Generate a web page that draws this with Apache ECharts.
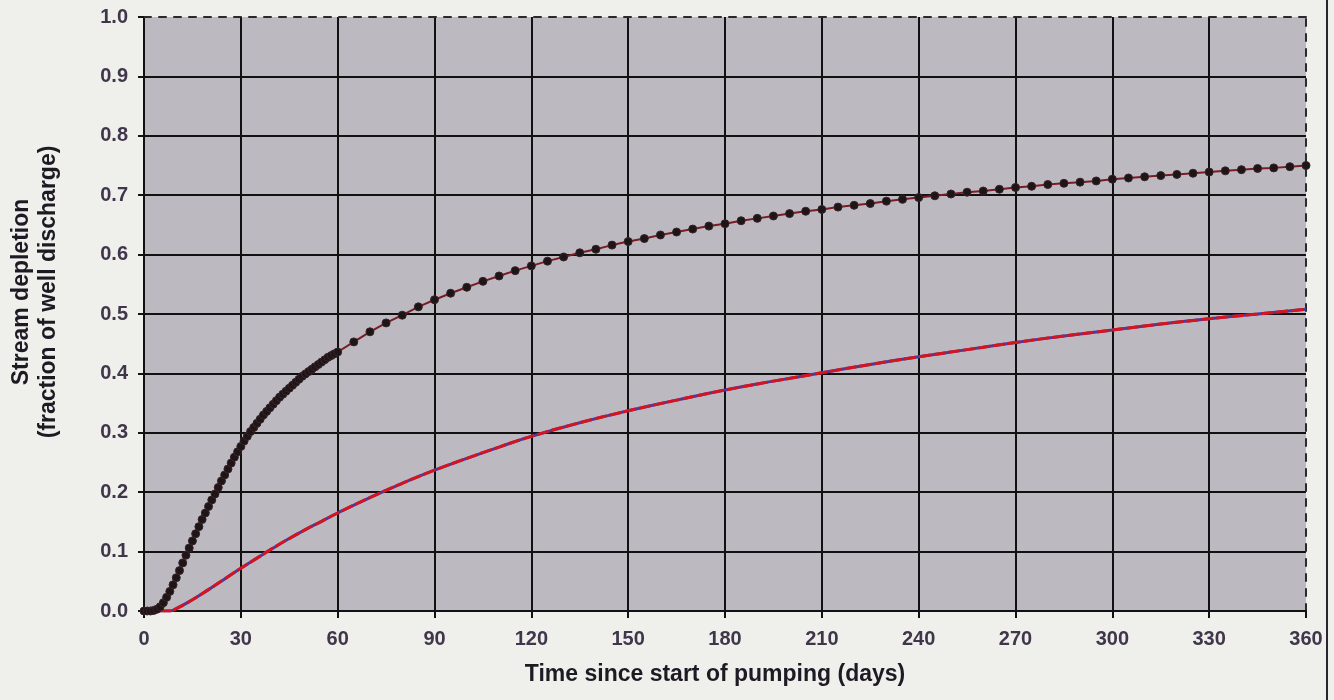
<!DOCTYPE html>
<html>
<head>
<meta charset="utf-8">
<script src="https://cdn.jsdelivr.net/npm/echarts@6/dist/echarts.min.js"></script>
<style>
html,body{margin:0;padding:0;background:#efefeb;}
#chart{width:1334px;height:700px;}
</style>
</head>
<body>
<div id="chart"></div>
<script>
// Tick labels
const xTicks = [0, 30, 60, 90, 120, 150, 180, 210, 240, 270, 300, 330, 360];
const yTicks = [0.0, 0.1, 0.2, 0.3, 0.4, 0.5, 0.6, 0.7, 0.8, 0.9, 1.0];

// Series with dot markers (days, fraction of well discharge)
const dotDays = [
  0,1,2,3,4,5,6,7,8,9,10,11,12,13,14,15,16,17,18,19,20,
  21,22,23,24,25,26,27,28,29,30,31,32,33,34,35,36,37,38,39,40,
  41,42,43,44,45,46,47,48,49,50,51,52,53,54,55,56,57,58,59,60,
  65,70,75,80,85,90,95,100,105,110,115,120,125,130,135,140,145,150,
  155,160,165,170,175,180,185,190,195,200,205,210,215,220,225,230,235,240,
  245,250,255,260,265,270,275,280,285,290,295,300,305,310,315,320,325,330,
  335,340,345,350,355,360
];
const dotValues = [
  0,0,0,0.001,0.003,0.007,0.014,0.023,0.033,0.044,0.056,0.068,0.081,0.094,0.106,0.118,0.130,0.142,0.154,0.165,0.176,
  0.187,0.197,0.208,0.219,0.229,0.239,0.249,0.259,0.268,0.277,0.286,0.294,0.302,0.309,0.316,0.323,0.330,0.336,0.342,0.348,
  0.354,0.360,0.365,0.370,0.375,0.380,0.385,0.390,0.395,0.399,0.403,0.407,0.411,0.415,0.419,0.423,0.427,0.430,0.433,0.436,
  0.453,0.470,0.485,0.498,0.512,0.524,0.535,0.545,0.555,0.564,0.573,0.581,0.589,0.596,0.603,0.609,0.616,0.622,
  0.627,0.633,0.638,0.643,0.648,0.652,0.657,0.661,0.665,0.669,0.673,0.676,0.680,0.683,0.686,0.690,0.693,0.696,
  0.699,0.702,0.705,0.707,0.710,0.713,0.715,0.718,0.720,0.722,0.724,0.727,0.729,0.731,0.733,0.735,0.737,0.739,
  0.741,0.743,0.745,0.746,0.748,0.750
];

// Red line series
const lineDays = [0,5,8,10,15,20,25,30,35,40,45,50,55,60,70,80,90,100,110,120,135,150,165,180,195,210,225,240,255,270,285,300,315,330,345,360];
const lineValues = [0,0,0,0.004,0.019,0.036,0.054,0.072,0.089,0.106,0.122,0.137,0.151,0.165,0.191,0.215,0.237,0.257,0.276,0.294,0.317,0.337,0.355,0.372,0.387,0.401,0.415,0.428,0.440,0.452,0.463,0.473,0.483,0.492,0.500,0.508];

const pair = (xs, ys) => xs.map((x, i) => [x, ys[i]]);

const FONT = "'Liberation Sans',Arial,sans-serif";

const chart = echarts.init(document.getElementById('chart'));
chart.setOption({
  backgroundColor: '#efefeb',
  animation: false,
  grid: { left: 139, right: 28, top: 17, bottom: 89, show: true, backgroundColor: '#bdb9c1', borderWidth: 0 },
  xAxis: [{
    type: 'value', min: 0, max: 360, interval: 30, position: 'bottom',
    axisLine: { show: true, onZero: false, lineStyle: { color: '#111', width: 2 } },
    axisTick: { show: true, length: 7, lineStyle: { color: '#111', width: 2 } },
    axisLabel: { margin: 18, color: '#40364b', fontSize: 20, fontWeight: 'bold', fontFamily: FONT,
      formatter: v => String(v), showMaxLabel: true },
    splitLine: { show: true, showMinLine: false, showMaxLine: false, lineStyle: { color: '#111', width: 2 } },
    name: 'Time since start of pumping (days)', nameLocation: 'middle', nameGap: 52,
    nameTextStyle: { color: '#1e1a24', fontSize: 23, fontWeight: 'bold', fontFamily: FONT, padding: [0, 20, 0, 0] }
  }, {
    type: 'value', min: 0, max: 360, interval: 30, position: 'top',
    axisLine: { show: true, onZero: false, lineStyle: { color: '#2a2a2a', width: 2, type: [7, 8] } },
    axisTick: { show: false }, axisLabel: { show: false }, splitLine: { show: false }
  }],
  yAxis: [{
    type: 'value', min: 0, max: 1, interval: 0.1, position: 'left',
    axisLine: { show: true, onZero: false, lineStyle: { color: '#111', width: 2 } },
    axisTick: { show: true, length: 6, lineStyle: { color: '#111', width: 2 } },
    axisLabel: { margin: 16, color: '#40364b', fontSize: 20, fontWeight: 'bold', fontFamily: FONT,
      formatter: v => v.toFixed(1) },
    splitLine: { show: true, showMinLine: false, showMaxLine: false, lineStyle: { color: '#111', width: 2 } },
    name: 'Stream depletion\n(fraction of well discharge)', nameLocation: 'middle', nameGap: 82,
    nameTextStyle: { color: '#1e1a24', fontSize: 23, fontWeight: 'bold', fontFamily: FONT, lineHeight: 27,
      align: 'center', padding: [0, 0, 0, 44] }
  }, {
    type: 'value', min: 0, max: 1, interval: 0.1, position: 'right',
    axisLine: { show: true, onZero: false, lineStyle: { color: '#2a2a2a', width: 2, type: [7, 8] } },
    axisTick: { show: false }, axisLabel: { show: false }, splitLine: { show: false }
  }],
  graphic: [{
    type: 'line', shape: { x1: 1327, y1: 0, x2: 1327, y2: 700 },
    style: { stroke: '#2a2630', lineWidth: 2 }, silent: true
  }],
  series: [
    {
      type: 'line', name: 'underlay', xAxisIndex: 0, yAxisIndex: 0,
      data: pair(lineDays, lineValues), smooth: true, showSymbol: false,
      lineStyle: { color: '#4a3aa0', width: 3 }, z: 3
    },
    {
      type: 'line', name: 'red', xAxisIndex: 0, yAxisIndex: 0,
      data: pair(lineDays, lineValues), smooth: true, showSymbol: false,
      lineStyle: { color: '#d4141e', width: 3, type: [12, 3] }, z: 4
    },
    {
      type: 'line', name: 'dots', xAxisIndex: 0, yAxisIndex: 0,
      data: pair(dotDays, dotValues), showSymbol: true, symbol: 'circle', symbolSize: 8,
      lineStyle: { color: '#7a1c24', width: 2 },
      itemStyle: { color: '#1c1619', borderColor: '#3a2226', borderWidth: 1 }, z: 5
    }
  ]
});
</script>
</body>
</html>
